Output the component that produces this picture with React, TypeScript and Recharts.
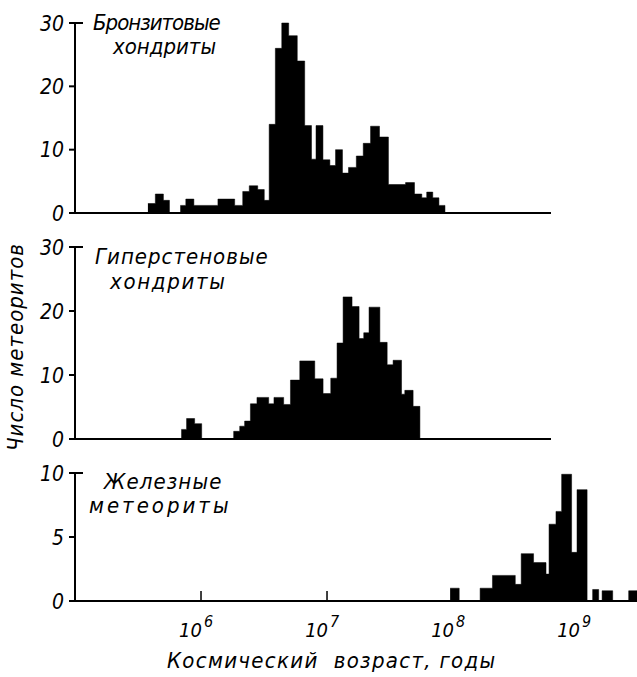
import React from "react";
import { AreaChart, Area, XAxis, YAxis } from "recharts";

const bronzEdges = [
  5.579, 5.638, 5.702, 5.75, 5.838, 5.88, 5.944, 6.135, 6.268, 6.332, 6.384,
  6.451, 6.503, 6.542, 6.591, 6.642, 6.697, 6.765, 6.824, 6.878, 6.914, 6.969,
  7.024, 7.069, 7.124, 7.172, 7.234, 7.289, 7.347, 7.418, 7.489, 7.625, 7.696,
  7.754, 7.793, 7.841, 7.89, 7.938,
];
const bronzCounts = [
  1.5, 3, 2, 0, 1.2, 2.2, 1.2, 2.2, 1.2, 3.4, 4.3, 3.7, 2, 14, 26, 30, 28, 24,
  13.8, 8.5, 13.8, 8.4, 7.5, 10, 6.3, 7.2, 9, 11, 13.7, 12, 4.5, 4.8, 3, 2.4,
  3.3, 2.4, 1.2,
];

const hyperEdges = [
  5.844, 5.886, 5.95, 6.006, 6.26, 6.308, 6.347, 6.393, 6.445, 6.538, 6.58,
  6.657, 6.711, 6.785, 6.904, 6.97, 7.031, 7.081, 7.129, 7.2, 7.256, 7.293,
  7.335, 7.421, 7.479, 7.526, 7.593, 7.619, 7.685, 7.739,
];
const hyperCounts = [
  1.5, 3.2, 2.4, 0, 1.2, 2, 2.8, 5.5, 6.5, 5.5, 6.5, 5.4, 9.2, 12.2, 9.4, 7.1,
  9.5, 15, 22.2, 20.7, 15.7, 16.6, 20.6, 15.1, 11.6, 12.3, 7, 7.6, 5.1,
];

const ironEdges = [
  7.977, 8.049, 8.215, 8.313, 8.494, 8.541, 8.639, 8.738, 8.762, 8.817, 8.862,
  8.941, 8.984, 9.064, 9.108, 9.156, 9.183, 9.267, 9.394, 9.46,
];
const ironCounts = [
  1, 0, 1, 2, 1.3, 3.7, 3, 2.1, 6, 7, 9.9, 3.8, 8.7, 0, 0.9, 0, 0.8, 0, 0.8,
];

const powerTicks = [6, 7, 8, 9];
const chondriteTicks = [0, 10, 20, 30];
const ironTicks = [0, 5, 10];

const FONT =
  "'Liberation Sans Narrow', 'DejaVu Sans Condensed', 'Roboto Condensed', 'DejaVu Sans', sans-serif";

const toSteps = (edges: number[], counts: number[]) =>
  edges.map((x, i) => ({ x, n: i < counts.length ? counts[i] : 0 }));

// y tick: outward tick line comes from recharts, the top value gets an inward cap
const CountTick = (props: any) => {
  const { x, y, payload, capAt } = props;
  return (
    <g>
      {Number(payload.value) === capAt && (
        <line x1={x + 10} x2={x + 19} y1={y} y2={y} stroke="#000" strokeWidth={2} />
      )}
      <text
        x={x}
        y={y}
        dy="0.36em"
        textAnchor="end"
        fontSize={21}
        fontStyle="italic"
        fontFamily={FONT}
        fill="#000"
      >
        {payload.value}
      </text>
    </g>
  );
};

const PowerTick = (props: any) => {
  const { x, y, payload } = props;
  return (
    <g>
      <line x1={x} x2={x} y1={y} y2={y - 10} stroke="#000" strokeWidth={1.5} />
      <text
        x={x + 1}
        y={y + 36}
        textAnchor="end"
        fontSize={20}
        fontStyle="italic"
        fontFamily={FONT}
        fill="#000"
      >
        10
      </text>
      <text
        x={x + 3}
        y={y + 26}
        fontSize={16}
        fontStyle="italic"
        fontFamily={FONT}
        fill="#000"
      >
        {payload.value}
      </text>
    </g>
  );
};

type PanelProps = {
  data: { x: number; n: number }[];
  top: number;
  width: number;
  height: number;
  plotTop: number;
  plotHeight: number;
  xMax: number;
  yMax: number;
  yTicks: number[];
  bottomAxis?: boolean;
};

const Panel = ({
  data,
  top,
  width,
  height,
  plotTop,
  plotHeight,
  xMax,
  yMax,
  yTicks,
  bottomAxis,
}: PanelProps) => (
  <div style={{ position: "absolute", left: 0, top }}>
    <AreaChart
      width={width}
      height={height}
      data={data}
      margin={{ top: plotTop, right: 0, bottom: 0, left: 0 }}
    >
      <XAxis
        dataKey="x"
        type="number"
        domain={[5, xMax]}
        allowDataOverflow
        ticks={bottomAxis ? powerTicks : []}
        tick={bottomAxis ? <PowerTick /> : false}
        tickLine={false}
        tickSize={0}
        tickMargin={0}
        interval={0}
        axisLine={{ stroke: "#000", strokeWidth: 2 }}
        height={height - plotTop - plotHeight}
      />
      <YAxis
        type="number"
        domain={[0, yMax]}
        ticks={yTicks}
        interval={0}
        width={75}
        tick={<CountTick capAt={yMax} />}
        tickSize={6}
        tickMargin={5}
        tickLine={{ stroke: "#000", strokeWidth: 2 }}
        axisLine={{ stroke: "#000", strokeWidth: 2 }}
      />
      <Area
        type="stepAfter"
        dataKey="n"
        stroke="#000"
        strokeWidth={0.5}
        fill="#000"
        fillOpacity={1}
        isAnimationActive={false}
        dot={false}
        activeDot={false}
      />
    </AreaChart>
  </div>
);

const label = (
  text: string,
  left: number,
  top: number,
  spacing = 0,
  size = 22
): React.ReactNode => (
  <div
    style={{
      position: "absolute",
      left,
      top,
      fontFamily: FONT,
      fontStyle: "italic",
      fontSize: size,
      lineHeight: 1,
      letterSpacing: spacing,
      whiteSpace: "pre",
      color: "#000",
    }}
  >
    {text}
  </div>
);

export default function App() {
  return (
    <div
      style={{
        position: "relative",
        width: 637,
        height: 677,
        background: "#fff",
        overflow: "hidden",
      }}
    >
      <style>{`body{margin:0}`}</style>
      <Panel
        data={toSteps(bronzEdges, bronzCounts)}
        top={0}
        width={551}
        height={230}
        plotTop={23}
        plotHeight={190}
        xMax={8.78}
        yMax={30}
        yTicks={chondriteTicks}
      />
      <Panel
        data={toSteps(hyperEdges, hyperCounts)}
        top={230}
        width={551}
        height={226}
        plotTop={17}
        plotHeight={192}
        xMax={8.78}
        yMax={30}
        yTicks={chondriteTicks}
      />
      <Panel
        data={toSteps(ironEdges, ironCounts)}
        top={440}
        width={637}
        height={237}
        plotTop={33}
        plotHeight={128}
        xMax={9.46}
        yMax={10}
        yTicks={ironTicks}
        bottomAxis
      />
      {label("Бронзитовые", 93, 12, -1)}
      {label("хондриты", 113, 36)}
      {label("Гиперстеновые", 95, 246, 1)}
      {label("хондриты", 110, 271, 1.7)}
      {label("Железные", 104, 471, 1.1)}
      {label("метеориты", 89, 495, 3)}
      {label("Космический  возраст, годы", 167, 650, 1.3)}
      <div
        style={{
          position: "absolute",
          left: 16,
          top: 347,
          transform: "translate(-50%, -50%) rotate(-90deg)",
          fontFamily: FONT,
          fontStyle: "italic",
          fontSize: 22,
          lineHeight: 1,
          letterSpacing: 1,
          whiteSpace: "nowrap",
          color: "#000",
        }}
      >
        Число метеоритов
      </div>
    </div>
  );
}
